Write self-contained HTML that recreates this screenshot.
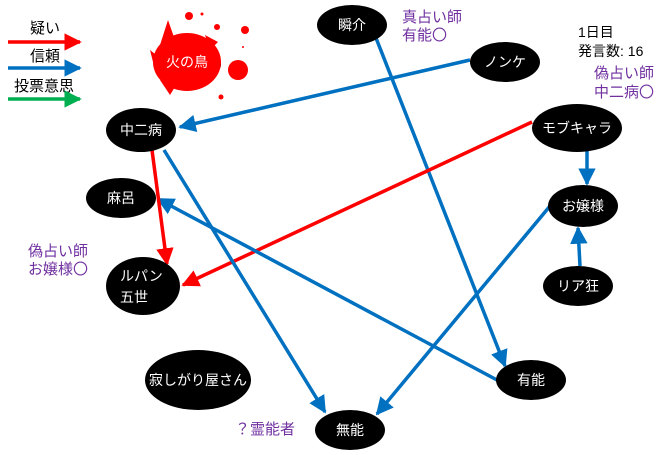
<!DOCTYPE html>
<html><head><meta charset="utf-8"><style>
body{margin:0;background:#fff;}
svg text{font-family:"Liberation Sans","Noto Sans CJK JP",sans-serif;}
</style></head><body>
<svg width="660" height="450" viewBox="0 0 660 450" xmlns="http://www.w3.org/2000/svg">
<defs>
<marker id="b" markerWidth="5" markerHeight="5" refX="4.5" refY="2.5" orient="auto"><path d="M0,0 L5,2.5 L0,5 z" fill="#0070C0"/></marker>
<marker id="r" markerWidth="5" markerHeight="5" refX="4.5" refY="2.5" orient="auto"><path d="M0,0 L5,2.5 L0,5 z" fill="#FF0000"/></marker>
<marker id="g" markerWidth="5" markerHeight="5" refX="4.5" refY="2.5" orient="auto"><path d="M0,0 L5,2.5 L0,5 z" fill="#00B050"/></marker>
</defs>
<text x="30" y="33" font-size="15">疑い</text>
<line x1="8" y1="42" x2="80" y2="42" stroke="#f00" stroke-width="3.5" marker-end="url(#r)"/>
<text x="30" y="61" font-size="15">信頼</text>
<line x1="8" y1="68" x2="80" y2="68" stroke="#0070C0" stroke-width="3.5" marker-end="url(#b)"/>
<text x="14" y="91" font-size="15">投票意思</text>
<line x1="8" y1="99" x2="80" y2="99" stroke="#00B050" stroke-width="3.5" marker-end="url(#g)"/>
<g stroke-width="3.5" fill="none">
<line x1="470" y1="60" x2="180" y2="127" stroke="#0070C0" marker-end="url(#b)"/>
<line x1="376" y1="38" x2="505" y2="366" stroke="#0070C0" marker-end="url(#b)"/>
<line x1="532" y1="122" x2="183" y2="285" stroke="#f00" marker-end="url(#r)"/>
<line x1="587" y1="151" x2="587" y2="184" stroke="#0070C0" marker-end="url(#b)"/>
<line x1="580" y1="266" x2="578" y2="228" stroke="#0070C0" marker-end="url(#b)"/>
<line x1="555" y1="200" x2="377" y2="414" stroke="#0070C0" marker-end="url(#b)"/>
<line x1="497" y1="380" x2="158" y2="199" stroke="#0070C0" marker-end="url(#b)"/>
<line x1="164" y1="150" x2="325" y2="412" stroke="#0070C0" marker-end="url(#b)"/>
<line x1="152" y1="150" x2="167" y2="264" stroke="#f00" marker-end="url(#r)"/>
</g>
<g fill="#f00">
<ellipse cx="217" cy="64" rx="4" ry="7" fill="#000"/>
<ellipse cx="187" cy="62" rx="34" ry="29"/>
<path d="M168,20 L175,40 L160,45 Z"/>
<path d="M150,50 L160,58 L155,70 Z"/>
<path d="M160,80 L170,95 L178,82 Z"/>
<path d="M205,35 L218,42 L210,50 Z"/>
<circle cx="238" cy="70" r="10"/>
<circle cx="189" cy="16" r="4"/>
<circle cx="245" cy="30" r="4"/>
<circle cx="217" cy="27" r="3"/>
<circle cx="202" cy="14" r="1.5"/>
<circle cx="221" cy="97" r="2.5"/>
<circle cx="243" cy="47" r="1"/>
</g>
<text x="187" y="67" font-size="14" fill="#fff" text-anchor="middle">火の鳥</text>
<g fill="#000">
<ellipse cx="352" cy="25" rx="35" ry="20"/>
<ellipse cx="505" cy="62" rx="35" ry="20"/>
<ellipse cx="577" cy="128" rx="45" ry="24"/>
<ellipse cx="583" cy="206" rx="35" ry="21"/>
<ellipse cx="578" cy="286" rx="35" ry="20"/>
<ellipse cx="531" cy="380" rx="35" ry="20"/>
<ellipse cx="350" cy="430" rx="35" ry="20"/>
<ellipse cx="198" cy="380" rx="53" ry="30"/>
<ellipse cx="143" cy="286" rx="37" ry="29"/>
<ellipse cx="121" cy="198" rx="35" ry="20"/>
<ellipse cx="141" cy="130" rx="35" ry="22"/>
</g>
<g fill="#fff" font-size="14" text-anchor="middle">
<text x="352" y="30">瞬介</text>
<text x="505" y="67">ノンケ</text>
<text x="577" y="133">モブキャラ</text>
<text x="583" y="211">お嬢様</text>
<text x="578" y="291">リア狂</text>
<text x="531" y="385">有能</text>
<text x="350" y="435">無能</text>
<text x="198" y="385">寂しがり屋さん</text>
<text x="120" y="281" text-anchor="start">ルパン</text>
<text x="120" y="302" text-anchor="start">五世</text>
<text x="121" y="203">麻呂</text>
<text x="141" y="135">中二病</text>
</g>
<g fill="#7030A0" font-size="15">
<text x="402" y="22">真占い師</text>
<text x="402" y="40">有能〇</text>
<text x="594" y="78">偽占い師</text>
<text x="594" y="97">中二病〇</text>
<text x="28" y="256">偽占い師</text>
<text x="28" y="274">お嬢様〇</text>
<text x="235" y="434">？霊能者</text>
</g>
<g font-size="14">
<text x="578" y="37">1日目</text>
<text x="578" y="56">発言数: 16</text>
</g>
</svg>
</body></html>
